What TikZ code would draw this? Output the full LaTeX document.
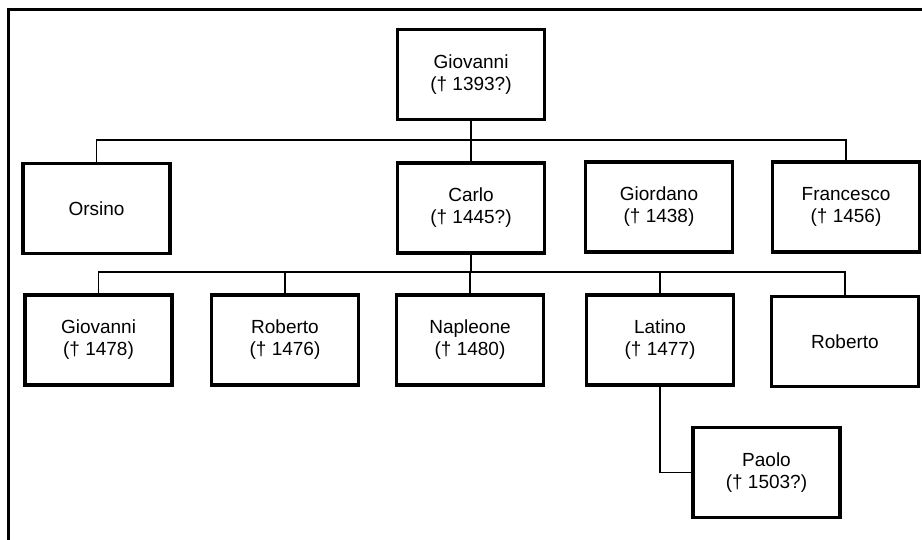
\documentclass[tikz,border=0pt]{standalone}
\usepackage{fontspec}
\setmainfont{Liberation Sans}
\begin{document}
\begin{tikzpicture}[x=1pt,y=-1pt,
  person/.style={draw,line width=3.2pt,minimum width=147pt,minimum height=90pt,
    inner sep=0pt,outer sep=0pt,align=center,font=\fontsize{19}{22}\selectfont},
  link/.style={line width=1.8pt}]
\useasboundingbox (0,0) rectangle (922,540);
\draw[line width=3pt] (8.5,540) -- (8.5,10) -- (922,10);
\node[person] (g0) at (471,74.5) {Giovanni\\(† 1393?)};
\node[person] (orsino) at (96.5,208.5) {Orsino};
\node[person] (carlo) at (471,208) {Carlo\\(† 1445?)};
\node[person] (giordano) at (659,207) {Giordano\\(† 1438)};
\node[person] (francesco) at (846,207) {Francesco\\(† 1456)};
\node[person] (giov2) at (98.5,340) {Giovanni\\(† 1478)};
\node[person] (roberto) at (285,340) {Roberto\\(† 1476)};
\node[person] (napleone) at (470,340) {Napleone\\(† 1480)};
\node[person] (latino) at (660,340) {Latino\\(† 1477)};
\node[person] (roberto2) at (845,341.5) {Roberto};
\node[person] (paolo) at (766.5,472.5) {Paolo\\(† 1503?)};
\coordinate (b1) at (471,140);
\coordinate (b2) at (471,272);
\draw[link] (g0.south) -- (carlo.north);
\draw[link] (orsino.north) |- (b1) -| (francesco.north);
\draw[link] (carlo.south) -- (b2);
\draw[link] (giov2.north) |- (b2) -| (roberto2.north);
\draw[link] (roberto.north) -- (roberto.north |- b2);
\draw[link] (napleone.north) -- (napleone.north |- b2);
\draw[link] (latino.north) -- (latino.north |- b2);
\draw[link] (latino.south) |- (paolo.west);
\end{tikzpicture}
\end{document}
